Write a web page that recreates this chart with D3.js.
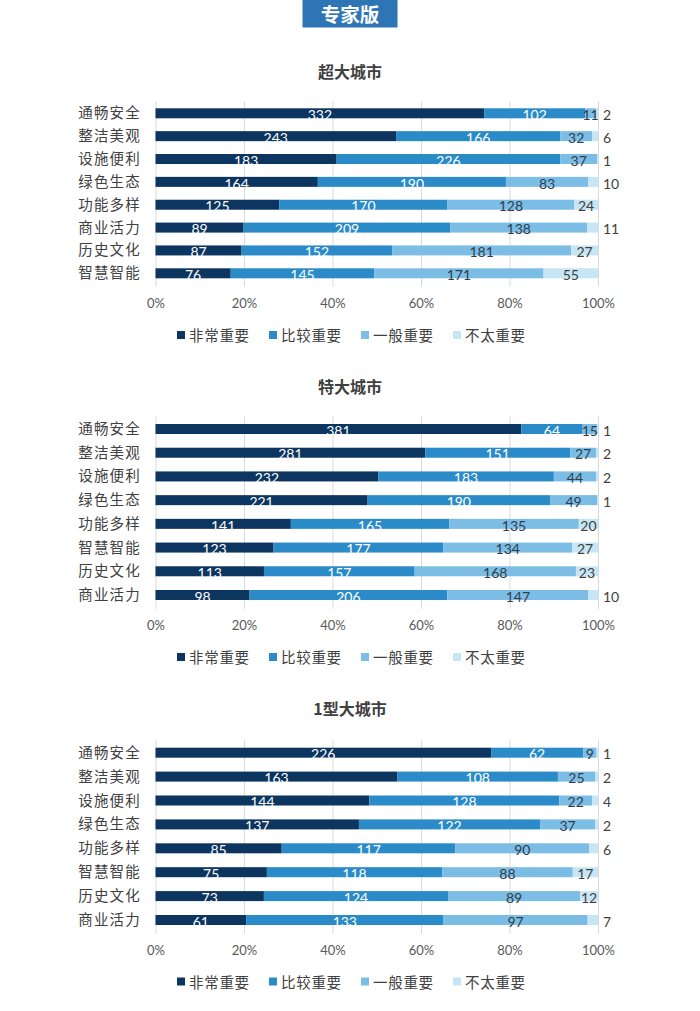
<!DOCTYPE html>
<html>
<head>
<meta charset="utf-8">
<script src="https://cdnjs.cloudflare.com/ajax/libs/d3/7.8.5/d3.min.js"></script>
<style>
  html, body { margin: 0; padding: 0; background: #ffffff; }
  svg { display: block; }
</style>
</head>
<body>
<svg id="chart" width="700" height="1011"></svg>
<script>
// ---------------- DATA ----------------
const badgeText = "专家版";
const seriesNames = ["非常重要", "比较重要", "一般重要", "不太重要"];
const chartTitles = ["超大城市", "特大城市", "1型大城市"];
const tickValues = [0, 0.2, 0.4, 0.6, 0.8, 1.0];

// 超大城市
const cats1 = ["通畅安全", "整洁美观", "设施便利", "绿色生态", "功能多样", "商业活力", "历史文化", "智慧智能"];
const c1Very = [332, 243, 183, 164, 125, 89, 87, 76];
const c1Fairly = [102, 166, 226, 190, 170, 209, 152, 145];
const c1General = [11, 32, 37, 83, 128, 138, 181, 171];
const c1Less = [2, 6, 1, 10, 24, 11, 27, 55];

// 特大城市
const cats2 = ["通畅安全", "整洁美观", "设施便利", "绿色生态", "功能多样", "智慧智能", "历史文化", "商业活力"];
const c2Very = [381, 281, 232, 221, 141, 123, 113, 98];
const c2Fairly = [64, 151, 183, 190, 165, 177, 157, 206];
const c2General = [15, 27, 44, 49, 135, 134, 168, 147];
const c2Less = [1, 2, 2, 1, 20, 27, 23, 10];

// 1型大城市
const cats3 = ["通畅安全", "整洁美观", "设施便利", "绿色生态", "功能多样", "智慧智能", "历史文化", "商业活力"];
const c3Very = [226, 163, 144, 137, 85, 75, 73, 61];
const c3Fairly = [62, 108, 128, 122, 117, 118, 124, 133];
const c3General = [9, 25, 22, 37, 90, 88, 89, 97];
const c3Less = [1, 2, 4, 2, 6, 17, 12, 7];

// ---------------- STYLE / LAYOUT ----------------
const colors = ["#0c355f", "#2a8bc8", "#7bbde4", "#c6e6f6"];
const labelColors = ["#ffffff", "#ffffff", "#2e3e4e", "#404040"];
const cjk = "'Noto Sans CJK SC', 'Noto Sans', sans-serif";
const num = "Lato, 'Liberation Sans', sans-serif";

const layouts = [
  { titleY: 70.5, firstRow: 113.3, lastRow: 273.3, tickY: 303.5, legendY: 335 },
  { titleY: 385.5, firstRow: 429, lastRow: 595, tickY: 625, legendY: 657 },
  { titleY: 707.5, firstRow: 752.7, lastRow: 920, tickY: 950, legendY: 981.5 }
];

const chartsData = [
  { title: chartTitles[0], cats: cats1, series: [c1Very, c1Fairly, c1General, c1Less] },
  { title: chartTitles[1], cats: cats2, series: [c2Very, c2Fairly, c2General, c2Less] },
  { title: chartTitles[2], cats: cats3, series: [c3Very, c3Fairly, c3General, c3Less] }
];

const svg = d3.select("#chart");
svg.append("rect").attr("width", 700).attr("height", 1011).attr("fill", "#ffffff");

// badge
svg.append("rect").attr("x", 302.5).attr("y", 0).attr("width", 95).attr("height", 27.5).attr("fill", "#2e75b6");
svg.append("text").attr("x", 350).attr("y", 13.5)
  .attr("text-anchor", "middle").attr("dominant-baseline", "central")
  .attr("font-family", cjk).attr("font-size", 19.5).attr("font-weight", 700)
  .attr("fill", "#ffffff").text(badgeText);

const x = d3.scaleLinear().domain([0, 1]).range([155.5, 598]);
const pct = d3.format(".0%");

chartsData.forEach((cd, ci) => {
  const L = layouts[ci];
  const g = svg.append("g");
  const step = (L.lastRow - L.firstRow) / (cd.cats.length - 1);
  const y = d3.scalePoint().domain(cd.cats).range([L.firstRow, L.lastRow]);
  const barH = 10;

  // title
  g.append("text").attr("x", 350).attr("y", L.titleY)
    .attr("text-anchor", "middle").attr("dominant-baseline", "central")
    .attr("font-family", cjk).attr("font-size", 16).attr("font-weight", 700)
    .attr("fill", "#404040").text(cd.title);

  // gridlines
  const gTop = L.firstRow - step / 2 - 0.5;
  const gBot = L.lastRow + step / 2 + 2;
  g.append("g").selectAll("line").data(tickValues).join("line")
    .attr("x1", d => x(d) + 0.5).attr("x2", d => x(d) + 0.5)
    .attr("y1", gTop).attr("y2", gBot)
    .attr("stroke", "#dadada").attr("stroke-width", 1);

  // x axis tick labels
  const axis = d3.axisBottom(x).tickValues(tickValues).tickFormat(pct).tickSize(0).tickPadding(0);
  const ax = g.append("g").attr("transform", `translate(0,${L.tickY})`).call(axis);
  ax.select(".domain").remove();
  ax.selectAll("text")
    .attr("dy", "0.35em").attr("y", 0)
    .attr("font-family", num).attr("font-size", 13).attr("fill", "#595959");

  // category labels
  g.append("g").selectAll("text").data(cd.cats).join("text")
    .attr("x", 141).attr("y", d => y(d) - 1.5)
    .attr("text-anchor", "end").attr("dominant-baseline", "central")
    .attr("font-family", cjk).attr("font-size", 14.5).attr("letter-spacing", "1.2px")
    .attr("fill", "#404040").text(d => d);

  // stacked data
  const rows = cd.cats.map((c, i) => {
    const vals = cd.series.map(s => s[i]);
    const total = d3.sum(vals);
    let acc = 0;
    return vals.map((v, si) => {
      const seg = { cat: c, si, v, x0: acc / total, x1: (acc + v) / total };
      acc += v;
      return seg;
    });
  });
  const segs = rows.flat();

  g.append("g").selectAll("rect").data(segs).join("rect")
    .attr("x", d => x(d.x0)).attr("width", d => Math.max(0, x(d.x1) - x(d.x0)))
    .attr("y", d => y(d.cat) - barH / 2).attr("height", barH)
    .attr("fill", d => colors[d.si]);

  // data labels
  const labels = g.append("g").selectAll("text").data(segs).join("text")
    .attr("y", d => y(d.cat) + 1.2)
    .attr("dominant-baseline", "central")
    .attr("font-family", num).attr("font-size", 14)
    .attr("fill", d => labelColors[d.si])
    .text(d => d.v);
  labels.each(function(d) {
    const t = d3.select(this);
    const cx = (x(d.x0) + x(d.x1)) / 2;
    const segW = x(d.x1) - x(d.x0);
    if (d.si === 3 && segW < 12) {
      t.attr("text-anchor", "start").attr("x", x(1) + 5);
    } else {
      t.attr("text-anchor", "middle").attr("x", cx);
    }
  });

  // legend
  const itemW = 92;
  const lx0 = 177;
  const leg = g.append("g").selectAll("g").data(seriesNames).join("g")
    .attr("transform", (d, i) => `translate(${lx0 + i * itemW},${L.legendY})`);
  leg.append("rect").attr("x", 0).attr("y", -4).attr("width", 8).attr("height", 8)
    .attr("fill", (d, i) => colors[i]);
  leg.append("text").attr("x", 12).attr("y", -0.5)
    .attr("dominant-baseline", "central")
    .attr("font-family", cjk).attr("font-size", 14.5).attr("letter-spacing", "0.7px")
    .attr("fill", "#404040").text(d => d);
});
</script>
</body>
</html>
